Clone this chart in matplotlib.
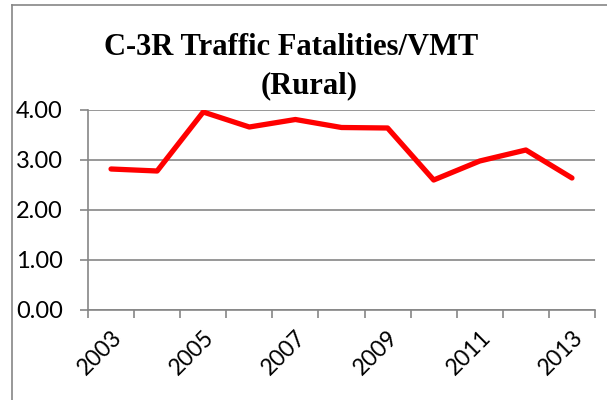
import matplotlib
matplotlib.use("Agg")
import matplotlib.pyplot as plt
from matplotlib.lines import Line2D
import numpy as np

years = ["2003", "2004", "2005", "2006", "2007", "2008", "2009", "2010", "2011", "2012", "2013"]
values = [2.82, 2.78, 3.96, 3.66, 3.81, 3.65, 3.64, 2.60, 2.98, 3.20, 2.64]
yticks = [0.0, 1.0, 2.0, 3.0, 4.0]
title_lines = ["C-3R Traffic Fatalities/VMT", "(Rural)"]

W, H = 607, 400
fig = plt.figure(figsize=(W / 100, H / 100), dpi=100)
fig.patch.set_facecolor("white")

gray = "#868686"
# figure frame (left and top visible)
fig.add_artist(Line2D([12 / W, 12 / W], [0, 1 - 5 / H], transform=fig.transFigure, color=gray, lw=1.2))
fig.add_artist(Line2D([12 / W, 1], [1 - 5 / H, 1 - 5 / H], transform=fig.transFigure, color=gray, lw=1.2))

left, right, top, bottom = 88, 595, 110, 310
ax = fig.add_axes([left / W, 1 - bottom / H, (right - left) / W, (bottom - top) / H])

x = np.arange(len(years))
ax.plot(x, values, color="#FF0000", lw=3.8, solid_capstyle="round", solid_joinstyle="round", zorder=3)

ax.set_xlim(-0.5, len(years) - 0.5)
ax.set_ylim(0, 4)
ax.set_yticks(yticks)
ax.set_yticklabels([f"{v:.2f}" for v in yticks], fontsize=17, fontfamily="Lato")
ax.yaxis.grid(True, color=gray, lw=1.2)
ax.set_axisbelow(True)

ax.set_xticks(x[::2])
ax.set_xticklabels(years[::2], rotation=45, ha="right", va="top", rotation_mode="anchor",
                   fontsize=16.5, fontfamily="Lato")
ax.tick_params(axis="x", which="major", length=0, pad=12)
ax.set_xticks(np.arange(-0.5, len(years), 1.0), minor=True)
ax.tick_params(axis="x", which="minor", length=6, width=1.2, color=gray, direction="out")
ax.tick_params(axis="y", length=6, width=1.2, color=gray, direction="out", pad=12)

for s in ["top", "right"]:
    ax.spines[s].set_visible(False)
for s in ["left", "bottom"]:
    ax.spines[s].set_color(gray)
    ax.spines[s].set_linewidth(1.2)

fig.text(291 / W, 1 - 55 / H, title_lines[0], ha="center", va="baseline",
         fontsize=22, fontweight="bold", fontfamily="Liberation Serif")
fig.text(309 / W, 1 - 93 / H, title_lines[1], ha="center", va="baseline",
         fontsize=22, fontweight="bold", fontfamily="Liberation Serif")

fig.savefig("out.png", dpi=100, facecolor="white")
